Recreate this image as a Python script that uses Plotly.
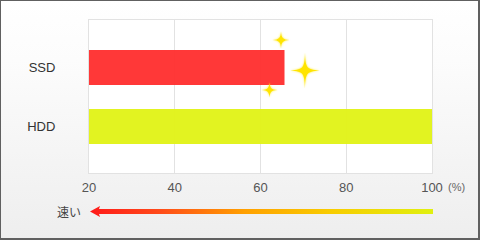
import base64
import plotly.graph_objects as go

# ---- data ----
categories = ["SSD", "HDD"]
values = [65.6, 100]
bar_colors = ["#ff3232", "#e2f31a"]
x_ticks = [20, 40, 60, 80, 100]
x_range = [20, 100]
unit_label = "(%)"
arrow_label = "速い"

# ---- geometry ----
W, H = 480, 240
L, R, T, B = 89, 48, 20, 67
PW, PH = W - L - R, H - T - B


def px_x(p):
    return (p - L) / PW


def px_y(p):
    return (H - B - p) / PH


def svg_uri(s):
    return "data:image/svg+xml;base64," + base64.b64encode(s.encode("utf-8")).decode()


bg_svg = f'''<svg xmlns="http://www.w3.org/2000/svg" width="{W}" height="{H}" viewBox="0 0 {W} {H}" preserveAspectRatio="none">
<defs><linearGradient id="g" x1="0" y1="0" x2="0" y2="1">
<stop offset="0" stop-color="#ffffff"/><stop offset="0.25" stop-color="#fcfcfc"/><stop offset="1" stop-color="#eeeeee"/></linearGradient></defs>
<rect width="{W}" height="{H}" fill="url(#g)"/>
<rect x="{L}" y="{T}" width="{PW}" height="{PH}" fill="#ffffff"/>
<rect x="0.5" y="0.5" width="{W-2}" height="{H-2}" fill="none" stroke="#606060" stroke-width="1"/>
<line x1="{W-0.5}" y1="0" x2="{W-0.5}" y2="{H}" stroke="#606060" stroke-width="1"/>
<line x1="0" y1="{H-0.5}" x2="{W}" y2="{H-0.5}" stroke="#606060" stroke-width="1"/>
</svg>'''


def star(cx, cy, rx, ry):
    a, b = 0.6, 1.6
    return (f"M{cx},{cy-ry} C{cx+a},{cy-b} {cx+b},{cy-a} {cx+rx},{cy} "
            f"C{cx+b},{cy+a} {cx+a},{cy+b} {cx},{cy+ry} "
            f"C{cx-a},{cy+b} {cx-b},{cy+a} {cx-rx},{cy} "
            f"C{cx-b},{cy-a} {cx-a},{cy-b} {cx},{cy-ry} Z")


sparkles = [(281, 40, 8.5, 8.5), (305, 70.5, 17.5, 18), (269.5, 90, 8, 7.5)]
star_paths = "".join(
    f'<path d="{star(*s)}" fill="#ffe800" filter="url(#blur)" opacity="0.8"/>'
    f'<path d="{star(*s)}" fill="#ffe400"/>' for s in sparkles)

ax0 = L + 1
ax1 = L + PW + 1
ay = 211.5
arrow_svg = f'''<svg xmlns="http://www.w3.org/2000/svg" width="{W}" height="{H}" viewBox="0 0 {W} {H}" preserveAspectRatio="none">
<defs>
<linearGradient id="ag" gradientUnits="userSpaceOnUse" x1="{ax0}" y1="0" x2="{ax1}" y2="0">
<stop offset="0" stop-color="#ff1a1a"/><stop offset="0.2" stop-color="#ff4a1a"/><stop offset="0.45" stop-color="#ffa000"/>
<stop offset="0.7" stop-color="#f8cc00"/><stop offset="1" stop-color="#e0f010"/></linearGradient>
<filter id="blur" x="-50%" y="-50%" width="200%" height="200%"><feGaussianBlur stdDeviation="1.2"/></filter>
</defs>
<path d="M{ax0},{ay} L{ax0+10},{ay-5.5} L{ax0+9},{ay-2.5} L{ax1},{ay-2.5} L{ax1},{ay+2.5} L{ax0+9},{ay+2.5} L{ax0+10},{ay+5.5} Z" fill="url(#ag)"/>
{star_paths}
</svg>'''

fig = go.Figure()
fig.add_trace(go.Bar(
    y=categories, x=values, orientation="h",
    marker=dict(color=bar_colors, line=dict(width=0)),
    opacity=0.97, width=0.593, hoverinfo="skip",
))

fig.update_layout(
    width=W, height=H,
    margin=dict(l=L, r=R, t=T, b=B, pad=0),
    paper_bgcolor="#ffffff", plot_bgcolor="rgba(0,0,0,0)",
    showlegend=False,
    font=dict(family="Liberation Sans, Arial, sans-serif", size=13, color="#444444"),
    xaxis=dict(range=x_range, tickvals=x_ticks, showgrid=True, gridcolor="#e2e2e2", gridwidth=1,
               showline=True, linecolor="#e2e2e2", linewidth=1, mirror=True, zeroline=False,
               ticks="", ticklabelstandoff=2, tickfont=dict(size=13, color="#555555")),
    yaxis=dict(type="category", categoryorder="array", categoryarray=categories,
               range=[1.788, -0.805], showgrid=False, zeroline=False,
               showline=True, linecolor="#e2e2e2", linewidth=1, mirror=True,
               ticks="", ticklabelstandoff=30, tickfont=dict(size=13, color="#333333")),
    images=[
        dict(source=svg_uri(bg_svg), xref="paper", yref="paper", x=px_x(0), y=px_y(0),
             sizex=W / PW, sizey=H / PH, xanchor="left", yanchor="top", sizing="stretch", layer="below"),
        dict(source=svg_uri(arrow_svg), xref="paper", yref="paper", x=px_x(0), y=px_y(0),
             sizex=W / PW, sizey=H / PH, xanchor="left", yanchor="top", sizing="stretch", layer="above"),
    ],
    annotations=[
        dict(text=unit_label, xref="paper", yref="paper", x=px_x(446), y=px_y(187), xanchor="left",
             yanchor="middle", showarrow=False, font=dict(size=11, color="#666666")),
        dict(text=arrow_label, xref="paper", yref="paper", x=px_x(68.5), y=px_y(211), xanchor="center",
             yanchor="middle", showarrow=False,
             font=dict(family="Noto Sans CJK JP, sans-serif", size=12, color="#444444")),
    ],
)

fig.write_html("out.html")
